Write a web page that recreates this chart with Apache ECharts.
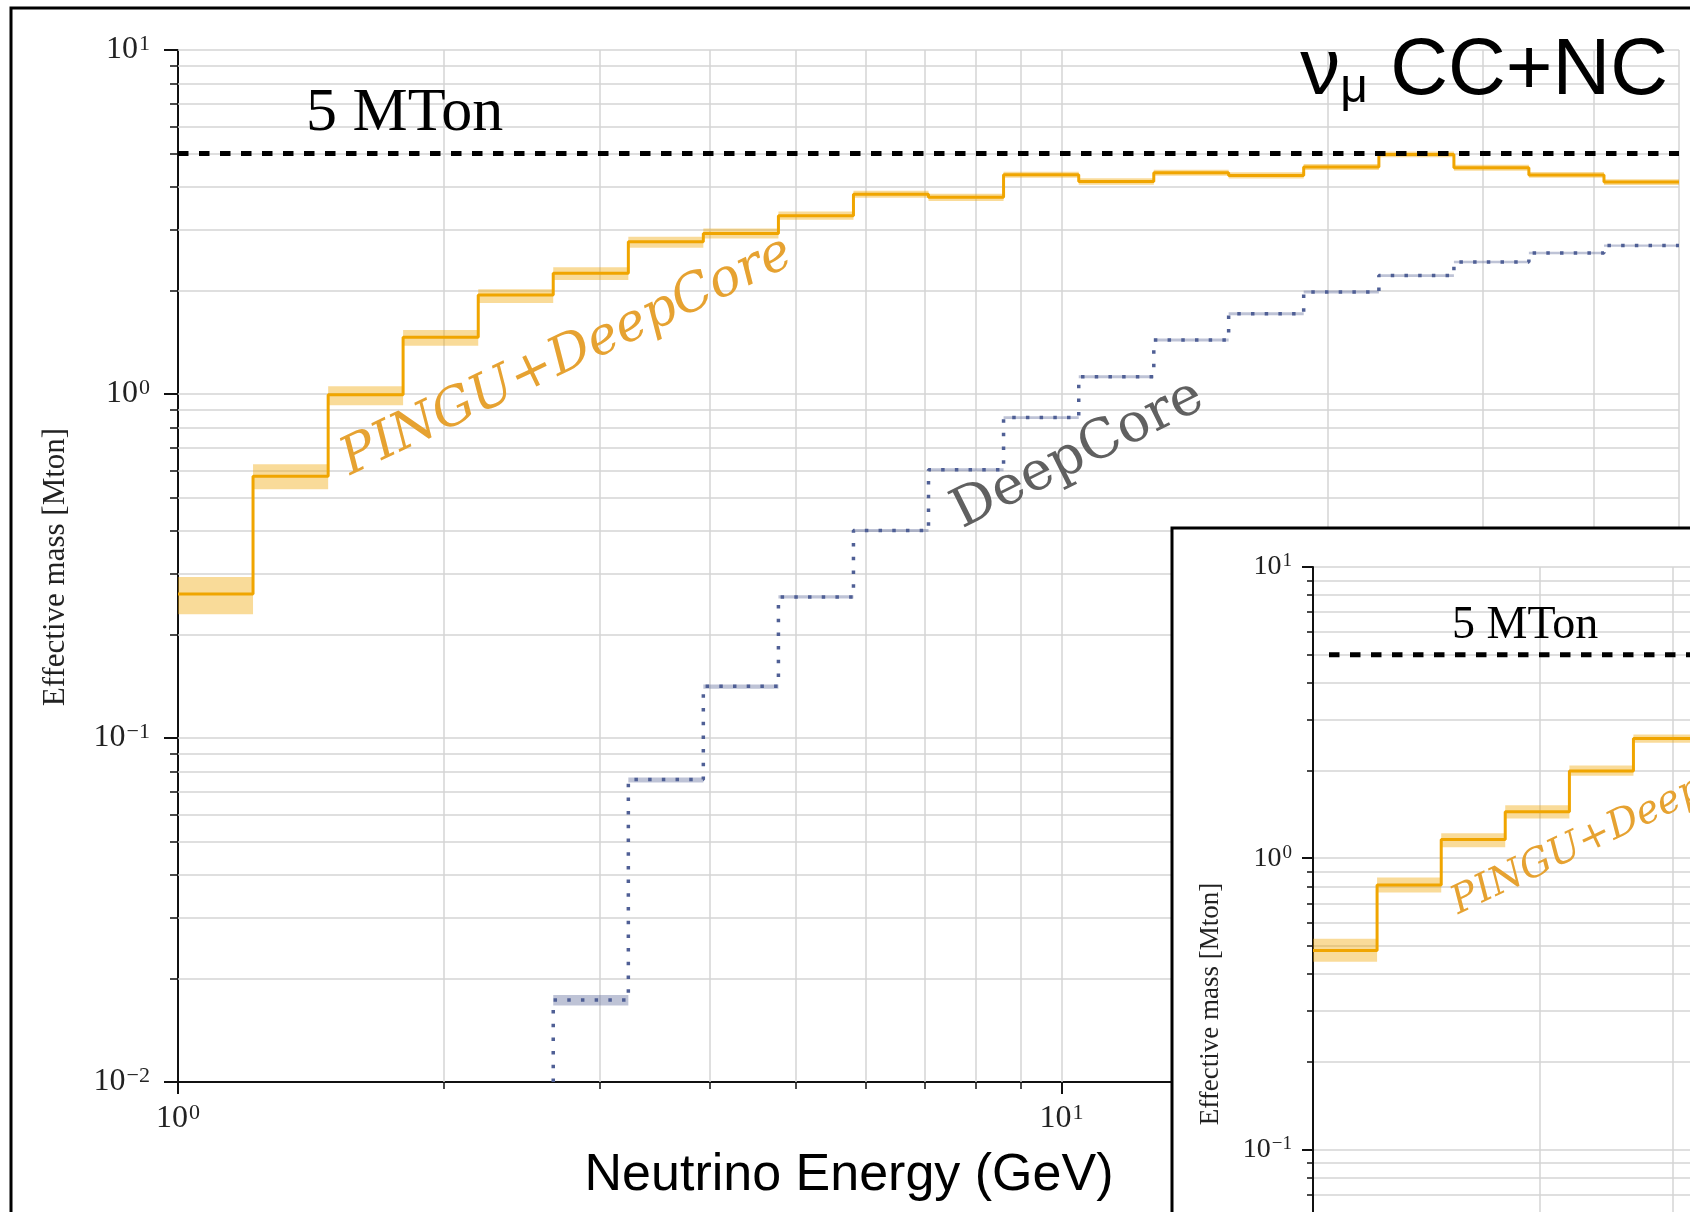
<!DOCTYPE html>
<html>
<head>
<meta charset="utf-8">
<script src="https://cdn.jsdelivr.net/npm/echarts@6/dist/echarts.min.js"></script>
<style>
html,body{margin:0;padding:0;background:#fff;}
#c{width:1690px;height:1212px;}
</style>
</head>
<body>
<div id="c"></div>
<script>
// ---------------- data ----------------
const binEdges = [1, 1.216, 1.479, 1.798, 2.187, 2.659, 3.234, 3.932, 4.782, 5.815,
                  7.071, 8.599, 10.46, 12.72, 15.46, 18.80, 22.87, 27.81, 33.81, 41.12, 50];

const pinguMass = [0.262, 0.577, 0.995, 1.461, 1.94, 2.243, 2.77, 2.93, 3.30, 3.81,
                   3.73, 4.34, 4.15, 4.40, 4.32, 4.57, 4.97, 4.55, 4.33, 4.13];
const pinguLow  = [0.229, 0.529, 0.928, 1.381, 1.84, 2.144, 2.66, 2.83, 3.21, 3.72,
                   3.64, 4.25, 4.06, 4.31, 4.23, 4.48, 4.88, 4.46, 4.25, 4.05];
const pinguHigh = [0.294, 0.625, 1.054, 1.534, 2.015, 2.335, 2.865, 3.03, 3.39, 3.90,
                   3.82, 4.43, 4.24, 4.49, 4.41, 4.66, 5.07, 4.64, 4.42, 4.21];

const deepCoreFirstBin = 5;
const deepCoreMass = [0.0173, 0.0757, 0.1413, 0.257, 0.401, 0.602, 0.854, 1.122, 1.435,
                      1.71, 1.98, 2.21, 2.42, 2.57, 2.70];
const deepCoreLow  = [0.0167, 0.0743, 0.139, 0.2546, 0.397, 0.596, 0.846, 1.111, 1.42,
                      1.693, 1.96, 2.19, 2.40, 2.55, 2.68];
const deepCoreHigh = [0.0179, 0.0768, 0.143, 0.2598, 0.405, 0.608, 0.862, 1.133, 1.45,
                      1.727, 2.00, 2.23, 2.44, 2.59, 2.72];

// inset (only the part that is visible in the picture)
const insetPinguMass = [0.482, 0.81, 1.16, 1.445, 1.995, 2.575];
const insetPinguLow  = [0.441, 0.762, 1.091, 1.37, 1.92, 2.49];
const insetPinguHigh = [0.529, 0.858, 1.219, 1.52, 2.08, 2.66];

const referenceMass = 5;          // "5 MTon" line
const insetRefStart = 1.05;       // inset dashed line starts slightly right of its axis

const xRange = [1, 50];
const yRange = [0.01, 10];
const insetXRange = [1, 3.16];    // visible part of the inset x axis
const insetYRange = [0.061, 10];  // visible part of the inset y axis
const xDecades = [1, 10];
const xMinor = [2, 3, 4, 5, 6, 7, 8, 9, 20, 30, 40, 50];
const yDecades = [0.01, 0.1, 1, 10];
const yMinor = [0.02, 0.03, 0.04, 0.05, 0.06, 0.07, 0.08, 0.09,
                0.2, 0.3, 0.4, 0.5, 0.6, 0.7, 0.8, 0.9,
                2, 3, 4, 5, 6, 7, 8, 9];

// ---------------- helpers ----------------
const ORANGE = '#F0A500';
const BAND_OR = 'rgba(240,165,0,0.40)';
const SLATE = '#4F5F95';
const BAND_SL = 'rgba(110,122,165,0.45)';
const GRID_C = '#d5d5d5';

function stepData(edges, vals, start) {
  const d = vals.map((v, i) => [edges[start + i], v]);
  d.push([edges[start + vals.length], vals[vals.length - 1]]);
  return d;
}
function bandData(edges, lo, hi, start) {
  return lo.map((l, i) => [edges[start + i], edges[start + i + 1], l, hi[i]]);
}
function bandSeries(xi, yi, data, color, z) {
  return {
    type: 'custom', xAxisIndex: xi, yAxisIndex: yi, z: z, silent: true, animation: false, clip: true,
    encode: { x: [0, 1], y: [2, 3] },
    data: data,
    renderItem: function (params, api) {
      const p0 = api.coord([api.value(0), api.value(3)]);
      const p1 = api.coord([api.value(1), api.value(2)]);
      return { type: 'rect', shape: { x: p0[0], y: p0[1], width: p1[0] - p0[0], height: p1[1] - p0[1] },
               style: { fill: color } };
    }
  };
}
function supLabel(v) {
  const e = Math.round(Math.log10(v));
  return '{b|10}{s|' + (e < 0 ? '\u2212' + (-e) : String(e)) + '}';
}
function tickRich(fs, sfs) {
  return {
    b: { fontFamily: 'Liberation Serif', fontSize: fs, lineHeight: fs, color: '#222' },
    s: { fontFamily: 'Liberation Serif', fontSize: sfs, lineHeight: sfs, padding: [0, 0, fs - sfs + 2, 1], color: '#222' }
  };
}
function inRange(vals, r) { return vals.filter(v => v > r[0] * 1.0001 && v <= r[1] * 1.0001); }
function gridLineSeries(xi, yi, z, xr, yr) {
  const items = [];
  inRange(xMinor.concat([10]), xr).forEach(v => items.push({ xAxis: v }));
  inRange(yMinor.concat([0.1, 1, 10]), yr).forEach(v => items.push({ yAxis: v }));
  return {
    type: 'line', xAxisIndex: xi, yAxisIndex: yi, data: [], silent: true, animation: false,
    markLine: { silent: true, z: z, animation: false, symbol: ['none', 'none'], label: { show: false },
                emphasis: { disabled: true },
                lineStyle: { color: GRID_C, width: 1.5, type: 'solid' }, data: items }
  };
}
const AX_LINE = { show: true, onZero: false, lineStyle: { color: '#111', width: 2 } };

// ---------------- chart ----------------
const chart = echarts.init(document.getElementById('c'), null, { renderer: 'canvas', width: 1690, height: 1212 });

const xAxes = [
  { type: 'log', gridIndex: 0, min: xRange[0], max: xRange[1], position: 'bottom', z: 0,
    axisLine: AX_LINE,
    axisTick: { show: true, customValues: xDecades, length: 12, lineStyle: { color: '#111', width: 2 } },
    axisLabel: { show: true, customValues: xDecades, formatter: supLabel, rich: tickRich(32, 22), margin: 21 },
    splitLine: { show: false }, minorTick: { show: false } },
  { type: 'log', gridIndex: 0, min: xRange[0], max: xRange[1], position: 'bottom', z: 0,
    axisLine: { show: false },
    axisTick: { show: true, customValues: xMinor, length: 7, lineStyle: { color: '#111', width: 1.5 } },
    axisLabel: { show: false }, splitLine: { show: false } },
  { type: 'log', gridIndex: 1, min: insetXRange[0], max: insetXRange[1], position: 'bottom', z: 11,
    axisLine: { show: false }, axisTick: { show: false }, axisLabel: { show: false }, splitLine: { show: false } }
];
const yAxes = [
  { type: 'log', gridIndex: 0, min: yRange[0], max: yRange[1], position: 'left', z: 0,
    axisLine: AX_LINE,
    axisTick: { show: true, customValues: yDecades, length: 14, lineStyle: { color: '#111', width: 2 } },
    axisLabel: { show: true, customValues: yDecades, formatter: supLabel, rich: tickRich(32, 22), margin: 28 },
    splitLine: { show: false }, minorTick: { show: false } },
  { type: 'log', gridIndex: 0, min: yRange[0], max: yRange[1], position: 'left', z: 0,
    axisLine: { show: false },
    axisTick: { show: true, customValues: yMinor, length: 8, lineStyle: { color: '#111', width: 1.5 } },
    axisLabel: { show: false }, splitLine: { show: false } },
  { type: 'log', gridIndex: 1, min: insetYRange[0], max: insetYRange[1], position: 'left', z: 11,
    axisLine: AX_LINE,
    axisTick: { show: true, customValues: inRange(yDecades, insetYRange), length: 11, lineStyle: { color: '#111', width: 2 } },
    axisLabel: { show: true, customValues: inRange(yDecades, insetYRange), formatter: supLabel, rich: tickRich(28, 19), margin: 21 },
    splitLine: { show: false }, minorTick: { show: false } },
  { type: 'log', gridIndex: 1, min: insetYRange[0], max: insetYRange[1], position: 'left', z: 11,
    axisLine: { show: false },
    axisTick: { show: true, customValues: inRange(yMinor, insetYRange), length: 6, lineStyle: { color: '#111', width: 1.5 } },
    axisLabel: { show: false }, splitLine: { show: false } }
];

const deg = Math.PI / 180;

const option = {
  animation: false,
  backgroundColor: '#ffffff',
  grid: [
    { left: 178, top: 50, width: 1501, height: 1032, show: false },
    { left: 1313, top: 567, width: 377, height: 645, show: false }
  ],
  xAxis: xAxes,
  yAxis: yAxes,
  series: [
    // main panel
    gridLineSeries(0, 0, 1, xRange, yRange),
    bandSeries(0, 0, bandData(binEdges, pinguLow, pinguHigh, 0), BAND_OR, 2),
    bandSeries(0, 0, bandData(binEdges, deepCoreLow, deepCoreHigh, deepCoreFirstBin), BAND_SL, 2),
    { type: 'line', xAxisIndex: 0, yAxisIndex: 0, z: 3, silent: true, animation: false,
      step: 'end', symbol: 'none', data: stepData(binEdges, pinguMass, 0),
      lineStyle: { color: ORANGE, width: 3 } },
    { type: 'line', xAxisIndex: 0, yAxisIndex: 0, z: 3, silent: true, animation: false,
      step: 'end', symbol: 'none',
      data: [[binEdges[deepCoreFirstBin], yRange[0]]].concat(stepData(binEdges, deepCoreMass, deepCoreFirstBin)),
      lineStyle: { color: SLATE, width: 3.5, type: [3.5, 10.2], cap: 'butt' } },
    { type: 'line', xAxisIndex: 0, yAxisIndex: 0, z: 5, silent: true, animation: false,
      symbol: 'none', data: [[xRange[0], referenceMass], [xRange[1], referenceMass]],
      lineStyle: { color: '#000', width: 5, type: [10.5, 10.5], cap: 'butt' } },
    // inset panel
    gridLineSeries(2, 2, 11, insetXRange, insetYRange),
    bandSeries(2, 2, bandData(binEdges, insetPinguLow, insetPinguHigh, 0), BAND_OR, 12),
    { type: 'line', xAxisIndex: 2, yAxisIndex: 2, z: 13, silent: true, animation: false,
      step: 'end', symbol: 'none', data: stepData(binEdges, insetPinguMass, 0),
      lineStyle: { color: ORANGE, width: 3 } },
    { type: 'line', xAxisIndex: 2, yAxisIndex: 2, z: 14, silent: true, animation: false,
      symbol: 'none', data: [[insetRefStart, referenceMass], [insetXRange[1], referenceMass]],
      lineStyle: { color: '#000', width: 5, type: [10.5, 10.5], cap: 'butt' } }
  ],
  graphic: {
    elements: [
      { type: 'rect', z: 1, silent: true, shape: { x: 11, y: 8, width: 1800, height: 1400 },
        style: { fill: 'none', stroke: '#000', lineWidth: 3 } },
      { type: 'text', z: 6, x: 306, y: 114, silent: true,
        style: { text: '5 MTon', fontFamily: 'Liberation Serif', fontSize: 62, fill: '#000', align: 'left', verticalAlign: 'middle' } },
      { type: 'text', z: 6, x: 1668, y: 72, silent: true,
        style: { text: '{a|\u03bd}{m|\u03bc}{a| CC+NC}', align: 'right', verticalAlign: 'middle', fill: '#000',
                 rich: { a: { fontFamily: 'Liberation Sans', fontSize: 80, lineHeight: 80, fill: '#000', color: '#000' },
                         m: { fontFamily: 'Liberation Sans', fontSize: 48, lineHeight: 48, padding: [34, 0, 0, 0], fill: '#000', color: '#000' } } } },
      { type: 'text', z: 6, x: 849, y: 1176, silent: true,
        style: { text: 'Neutrino Energy (GeV)', fontFamily: 'Liberation Sans', fontSize: 52, fill: '#000', align: 'center', verticalAlign: 'middle' } },
      { type: 'text', z: 6, x: 56, y: 567, rotation: Math.PI / 2, silent: true,
        style: { text: 'Effective mass [Mton]', fontFamily: 'Liberation Serif', fontSize: 31, fill: '#222', align: 'center', verticalAlign: 'middle' } },
      { type: 'text', z: 6, x: 567, y: 357, rotation: 25.5 * deg, silent: true,
        style: { text: 'PINGU+DeepCore', fontFamily: 'DejaVu Serif', fontStyle: 'italic', fontSize: 52, fill: '#E6A231', align: 'center', verticalAlign: 'middle' } },
      { type: 'text', z: 6, x: 1078, y: 455, rotation: 26.5 * deg, silent: true,
        style: { text: 'DeepCore', fontFamily: 'DejaVu Serif', fontSize: 54, fill: '#606060', align: 'center', verticalAlign: 'middle' } },
      // inset frame
      { type: 'rect', z: 10, silent: true, shape: { x: 1172, y: 528, width: 1000, height: 1000 },
        style: { fill: '#fff', stroke: '#000', lineWidth: 3 } },
      { type: 'text', z: 20, x: 1452, y: 626, silent: true,
        style: { text: '5 MTon', fontFamily: 'Liberation Serif', fontSize: 46, fill: '#000', align: 'left', verticalAlign: 'middle' } },
      { type: 'text', z: 20, x: 1211, y: 1004, rotation: Math.PI / 2, silent: true,
        style: { text: 'Effective mass [Mton]', fontFamily: 'Liberation Serif', fontSize: 27, fill: '#222', align: 'center', verticalAlign: 'middle' } },
      { type: 'text', z: 20, x: 1454, y: 905, rotation: 25.5 * deg, silent: true,
        style: { text: 'PINGU+DeepCore', fontFamily: 'DejaVu Serif', fontStyle: 'italic', fontSize: 39, fill: '#E6A231', align: 'left', verticalAlign: 'middle' } }
    ]
  }
};
chart.setOption(option);
</script>
</body>
</html>
